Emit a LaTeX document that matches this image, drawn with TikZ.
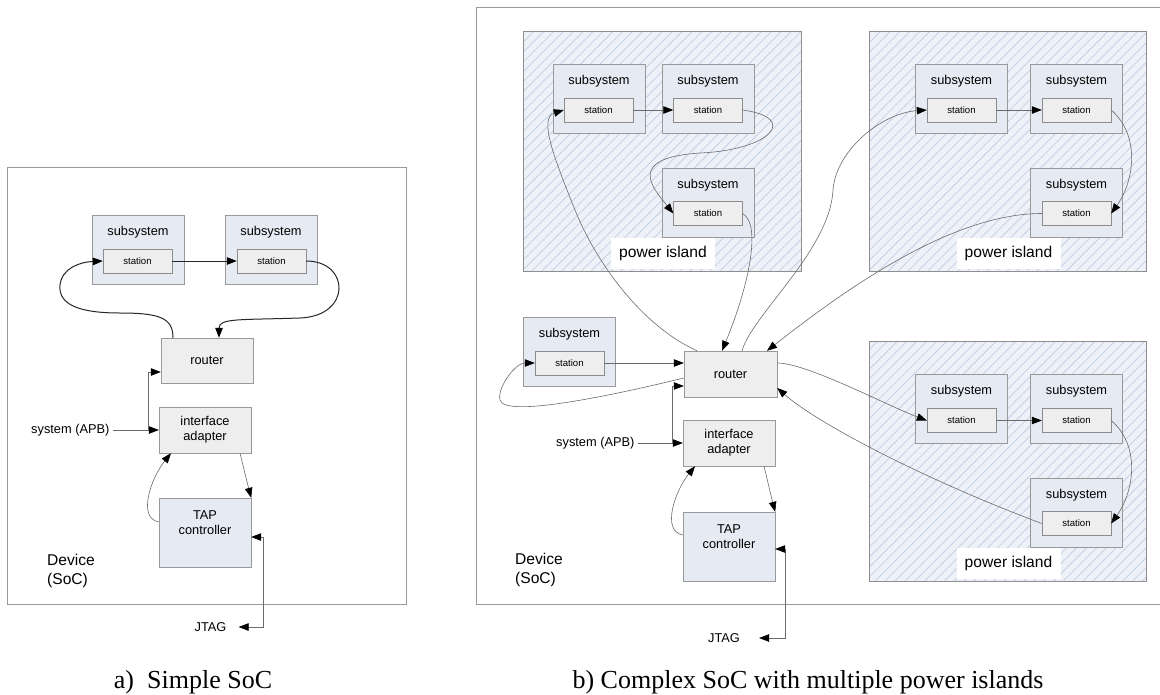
\documentclass[tikz,border=0pt]{standalone}
\usepackage{fontspec}
\setmainfont{Liberation Sans}
\newfontfamily\capfont{Liberation Serif}
\usetikzlibrary{arrows.meta,patterns.meta}

\definecolor{subfill}{HTML}{E6EAF2}
\definecolor{boxfill}{HTML}{EEEEEE}
\definecolor{islefill}{HTML}{EEF1F7}
\definecolor{hatch}{HTML}{C4D0E5}
\definecolor{frame}{HTML}{999999}
\definecolor{isleline}{HTML}{8E8E8E}
\definecolor{stline}{HTML}{8C8C8C}
\definecolor{wirecol}{HTML}{6A6A6A}

\newcommand{\blockfont}{\fontsize{12.8}{15}\selectfont}
\newcommand{\stationfont}{\fontsize{9.6}{11}\selectfont}
\newcommand{\islefont}{\fontsize{15.6}{18.5}\selectfont}

\begin{document}
\begin{tikzpicture}[
    x=1pt, y=-1pt,
    >={Triangle[length=10pt,width=7.5pt,color=black]},
    subsys/.style={draw=frame, fill=subfill, minimum width=92, minimum height=69,
        label={[font=\blockfont, yshift=17pt]center:subsystem}},
    station/.style={draw=stline, fill=boxfill, minimum width=69, minimum height=24, font=\stationfont},
    block/.style={draw=frame, fill=boxfill, minimum width=92, minimum height=46, align=center, font=\blockfont},
    tap/.style={draw=frame, fill=subfill, minimum width=92, minimum height=69,
        label={[font=\blockfont, align=center, yshift=10pt]center:TAP\\controller}},
    isle/.style={draw=isleline, preaction={fill=islefill},
        pattern={Lines[angle=45,distance=7pt,line width=0.8pt]}, pattern color=hatch,
        minimum width=278, minimum height=240},
    islabel/.style={fill=white, minimum width=104, minimum height=31, font=\islefont},
    device/.style={draw=frame, line width=0.8pt},
    devtext/.style={align=left, anchor=north west, inner sep=0pt, font=\islefont},
    txt/.style={font=\blockfont},
    link/.style={draw=black!85, line width=1pt, ->},
    wire/.style={draw=wirecol, line width=0.6pt, ->},
    caption/.style={font=\capfont\fontsize{26}{30}\selectfont}
]
\useasboundingbox (0,0) rectangle (1160,694);

% ---------- a) simple SoC ----------
\node[device, minimum width=399, minimum height=437] (devA) at (206.5,385.5) {};
\node[devtext] (devAtext) at (47,554.4) {Device\\(SoC)};

\node[subsys] (subA1) at (138,249.5) {};
\node[station] (stA1) at (137.5,261) {station};
\node[subsys] (subA2) at (271,249.5) {};
\node[station] (stA2) at (271.5,261) {station};

\node[block, minimum height=45] (routerA) at (207,360.5) {router};
\node[block] (adapterA) at (205,430) {interface\\adapter};
\node[tap] (tapA) at (205,532.5) {};

\node[txt, anchor=east] (apbA) at (113,430) {system (APB)};
\node[txt] (jtagA) at (210.5,627) {JTAG};
\coordinate (jA) at (148,430);

% station chain through the router
\draw[link] (stA1.east) -- (stA2.west);
\draw[link] (stA2.east) .. controls (350,261) and (352,316) .. (300,318)
    .. controls (240,320) and (219,318) .. ([xshift=12pt]routerA.north);
\draw[link] ([xshift=-34pt]routerA.north) .. controls (173,318) and (160,313) .. (120,313)
    .. controls (80,313) and (58,305) .. (60,285)
    .. controls (62,268) and (80,262) .. (stA1.west);

% bus and debug port
\draw[wire] (apbA.east) -- (adapterA.west);
\draw[wire] (jA) |- ([yshift=-11.5pt]routerA.west);
\draw[wire] ([xshift=35pt]adapterA.south) .. controls +(3,12) and +(-4,-15) .. (tapA.north east);
\draw[wire] ([yshift=10.5pt]tapA.west) .. controls (137,518) and (151,478) .. ([xshift=-34pt]adapterA.south);
\draw[wire, <->] ([yshift=-4.5pt]tapA.east) -- ++(12,0) |- ([xshift=8.7pt]jtagA.east);

\node[caption] (capA) at (193,682) {a)\ \ Simple SoC};

% ---------- b) complex SoC ----------
\draw[device] (1160,7) -| (476,604) -- (1160,604);
\node[devtext] (devBtext) at (515,553.4) {Device\\(SoC)};

% power islands
\node[isle] (isle1) at (662,151) {};
\node[isle, minimum width=277] (isle2) at (1007.5,151) {};
\node[isle, minimum width=277] (isle3) at (1007.5,461) {};
\node[islabel] (isle1lab) at (663,253.5) {power island};
\node[islabel] (isle2lab) at (1008.5,253.5) {power island};
\node[islabel] (isle3lab) at (1008.5,563.5) {power island};

% subsystems
\node[subsys] (subB1) at (599,98.5) {};
\node[station] (stB1) at (598.5,110) {station};
\node[subsys] (subB2) at (708,98.5) {};
\node[station] (stB2) at (708,110) {station};
\node[subsys] (subB3) at (708,202.5) {};
\node[station] (stB3) at (708,213.5) {station};

\node[subsys] (subB4) at (961.5,98.5) {};
\node[station] (stB4) at (961.5,110) {station};
\node[subsys] (subB5) at (1076.5,98.5) {};
\node[station] (stB5) at (1076.5,110) {station};
\node[subsys] (subB6) at (1076.5,202.5) {};
\node[station] (stB6) at (1076.5,213.5) {station};

\node[subsys] (subB7) at (961.5,408.5) {};
\node[station] (stB7) at (961.5,420.5) {station};
\node[subsys] (subB8) at (1076.5,408.5) {};
\node[station] (stB8) at (1076.5,420.5) {station};
\node[subsys] (subB9) at (1076.5,512.5) {};
\node[station] (stB9) at (1076.5,523.5) {station};

\node[subsys] (subB0) at (569.5,351.5) {};
\node[station] (stB0) at (569.5,363) {station};

\node[block, minimum width=93] (routerB) at (730.5,374) {router};
\node[block] (adapterB) at (729,443) {interface\\adapter};
\node[tap] (tapB) at (729,546.5) {};

\node[txt, anchor=east] (apbB) at (638,443) {system (APB)};
\node[txt] (jtagB) at (724,638) {JTAG};
\coordinate (jB) at (672,443);

% island 1
\draw[wire] (stB1.east) -- (stB2.west);
\draw[wire] (stB2.east) .. controls (800,118) and (770,150) .. (700,153)
    .. controls (625,158) and (653,188) .. (stB3.west);
\draw[wire] ([xshift=-33.5pt]routerB.north) .. controls (640,325) and (595,260) .. (575,210)
    .. controls (555,160) and (538,118) .. (stB1.west);
\draw[wire] (stB3.east) .. controls +(20,12) and +(25,-60) .. ([xshift=-8.5pt]routerB.north);

% island 2
\draw[wire] ([xshift=11.5pt]routerB.north) .. controls (752,315) and (830,250) .. (833,190)
    .. controls (836,150) and (882,113) .. (stB4.west);
\draw[wire] (stB4.east) -- (stB5.west);
\draw[wire] (stB5.east) .. controls (1140,135) and (1135,180) .. (stB6.east);
\draw[wire] (stB6.west) .. controls (952,213.5) and (847,288) .. ([xshift=36.5pt]routerB.north);

% island 3
\draw[wire] ([yshift=11pt]routerB.east) .. controls (807,363) and (887,405.5) .. (stB7.west);
\draw[wire] (stB7.east) -- (stB8.west);
\draw[wire] (stB8.east) .. controls (1140,445) and (1135,490) .. (stB9.east);
\draw[wire] (stB9.west) .. controls (922,478.5) and (817,423) .. ([yshift=-14pt]routerB.east);

% always-on subsystem
\draw[wire] (stB0.east) -- ([yshift=11pt]routerB.west);
\draw[wire] ([yshift=-4pt]routerB.west) .. controls (610,396) and (505,418) .. (500,400)
    .. controls (497,388) and (515,363) .. (stB0.west);

% bus and debug port
\draw[wire] (apbB.east) -- (adapterB.west);
\draw[wire] (jB) |- ([yshift=-12pt]routerB.west);
\draw[wire] ([xshift=35pt]adapterB.south) .. controls +(3,12) and +(-4,-15) .. (tapB.north east);
\draw[wire] ([yshift=11.5pt]tapB.west) .. controls (661,531) and (675,491) .. ([xshift=-34pt]adapterB.south);
\draw[wire, <->] ([yshift=-2.5pt]tapB.east) -- ++(10,0) |- ([xshift=15.7pt]jtagB.east);

\node[caption] (capB) at (808,682) {b) Complex SoC with multiple power islands};
\end{tikzpicture}
\end{document}
